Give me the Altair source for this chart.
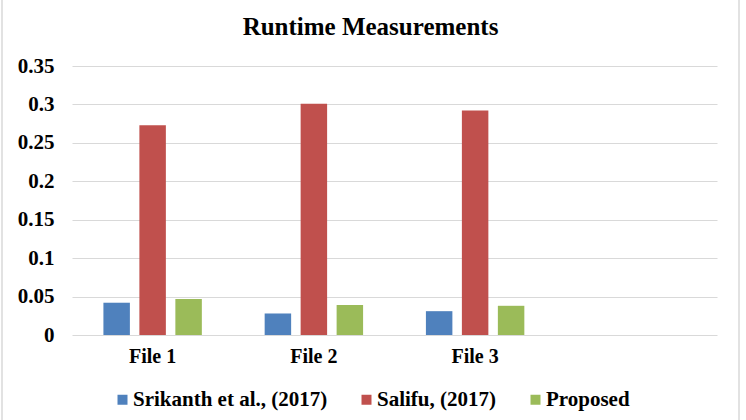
import altair as alt
import pandas as pd

files = ["File 1", "File 2", "File 3"]
series = ["Srikanth et al., (2017)", "Salifu, (2017)", "Proposed"]
srikanth = [0.042, 0.028, 0.031]
salifu = [0.273, 0.301, 0.292]
proposed = [0.047, 0.039, 0.038]
colors = ["#4f81bd", "#c0504d", "#9bbb59"]
y_ticks = [0, 0.05, 0.1, 0.15, 0.2, 0.25, 0.3, 0.35]

rows = []
for i, f in enumerate(files):
    for s, vals in zip(series, [srikanth, salifu, proposed]):
        rows.append({"file": f, "series": s, "value": vals[i]})
df = pd.DataFrame(rows)

FONT = "Liberation Serif"

bars = alt.Chart(df).mark_bar().encode(
    x=alt.X("file:N", title=None,
            scale=alt.Scale(domain=files + [" "], paddingInner=0, paddingOuter=0),
            axis=alt.Axis(labelAngle=0, labelPadding=11, ticks=False, domain=False, grid=False,
                          labelFontSize=20, labelFont=FONT, labelFontWeight="bold", labelColor="#000")),
    xOffset=alt.XOffset("series:N", sort=series,
                        scale=alt.Scale(paddingInner=0.264, paddingOuter=0.873)),
    y=alt.Y("value:Q", title=None,
            scale=alt.Scale(domain=[0, 0.35], nice=False),
            axis=alt.Axis(values=y_ticks, format="~g", ticks=False, domain=False, labelPadding=18,
                          gridColor="#d9d9d9", gridWidth=1,
                          labelFontSize=21, labelFont=FONT, labelFontWeight="bold", labelColor="#000")),
    color=alt.Color("series:N", sort=series,
                    scale=alt.Scale(domain=series, range=colors),
                    legend=alt.Legend(title=None, orient="none", direction="horizontal",
                                      legendX=40, legendY=323,
                                      symbolType="square", symbolSize=100, symbolStrokeWidth=0,
                                      labelFont=FONT, labelFontSize=21, labelFontWeight="bold",
                                      labelColor="#000", labelOffset=0, columnPadding=28,
                                      labelLimit=400)),
)

frame = alt.Chart(pd.DataFrame({"side": ["left", "right"], "px": [-70, 667]})).mark_rule(
    color="#d9d9d9", strokeWidth=1.5
).encode(
    x=alt.X("px:Q", scale=None),
    y=alt.value(-66),
    y2=alt.value(354),
)

chart = alt.layer(bars, frame).properties(
    width=645, height=269,
    title=alt.TitleParams("Runtime Measurements", font=FONT, fontSize=25, fontWeight="bold",
                          color="#000", anchor="middle", frame="group", dx=-24, offset=-41),
    autosize=alt.AutoSizeParams(type="none"),
    padding={"left": 72, "top": 66, "right": 29, "bottom": 85},
).configure(background="white", font=FONT).configure_view(stroke=None).configure_legend(
    labelFont=FONT, labelFontSize=21, labelFontWeight="bold", labelLimit=400
)

chart.save("out.html", embed_options={"renderer": "svg", "actions": False})
